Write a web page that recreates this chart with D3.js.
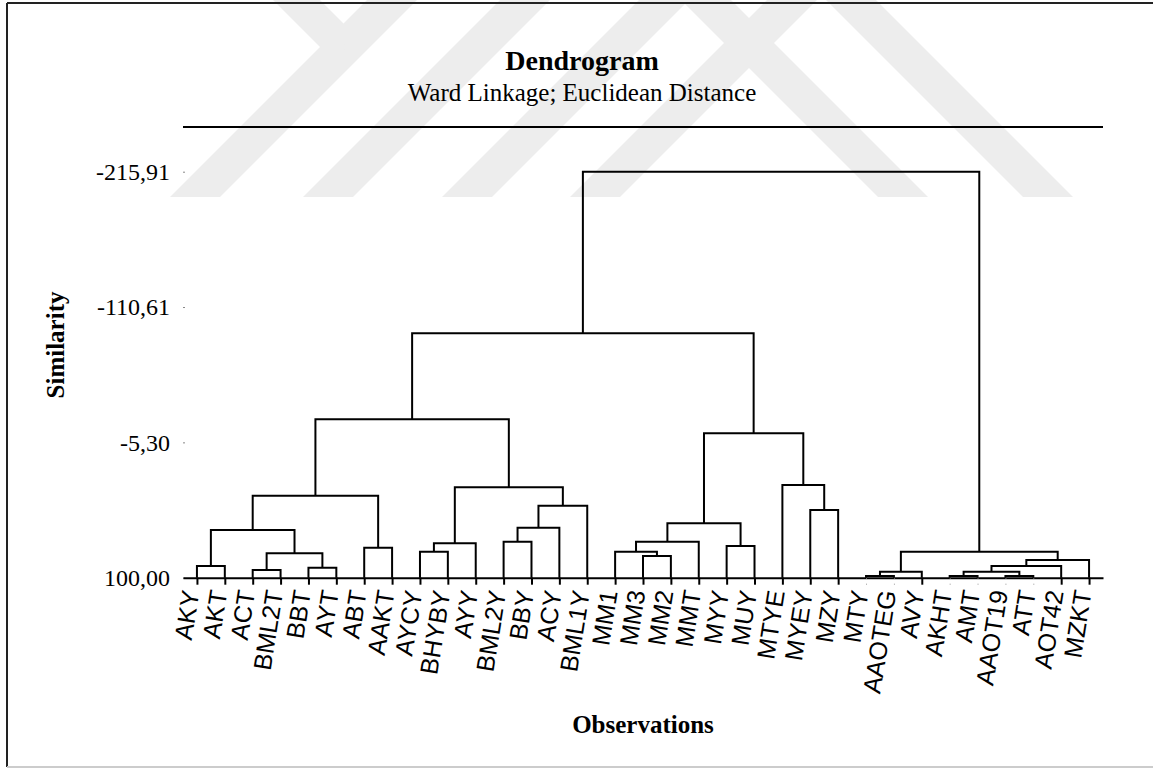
<!DOCTYPE html>
<html>
<head>
<meta charset="utf-8">
<script src="https://cdn.jsdelivr.net/npm/d3@7"></script>
<style>
  body { margin: 0; background: #fff; }
  svg { display: block; }
</style>
</head>
<body>
<div id="chart"></div>
<script>
// observations in dendrogram order
const leaves = ['AKY', 'AKT', 'ACT', 'BML2T', 'BBT', 'AYT', 'ABT', 'AAKT', 'AYCY', 'BHYBY', 'AYY',
                'BML2Y', 'BBY', 'ACY', 'BML1Y', 'MM1', 'MM3', 'MM2', 'MMT', 'MYY', 'MUY', 'MTYE',
                'MYEY', 'MZY', 'MTY', 'AAOTEG', 'AVY', 'AKHT', 'AMT', 'AAOT19', 'ATT', 'AOT42', 'MZKT'];

// merge k creates node leaves.length + k from mergeLeft[k] and mergeRight[k]
const mergeLeft   = [24, 27, 29, 33, 34, 2, 4, 0, 37, 41, 16, 38, 8, 15, 36, 6,
                     19, 45, 11, 46, 51, 40, 52, 22, 53, 54, 50, 21, 55, 58, 62, 63];
const mergeRight  = [25, 28, 30, 26, 35, 3, 5, 1, 31, 32, 17, 39, 9, 43, 42, 7,
                     20, 10, 12, 18, 13, 44, 49, 23, 14, 48, 57, 56, 60, 59, 61, 47];
const mergeHeight = [98.7, 98.7, 98.6, 95.3, 95.3, 94.0, 92.2, 90.9, 90.9, 86.2, 83.1, 81.0, 79.8, 79.8, 79.8, 76.7,
                     75.3, 73.2, 72.0, 72.0, 61.1, 62.9, 57.7, 47.3, 44.0, 36.2, 29.7, 27.9, -12.4, -23.2, -90.2, -215.91];

const yTicks = [-215.91, -110.61, -5.30, 100.00];

const width = 1153, height = 769;

const svg = d3.select('#chart')
              .append('svg')
              .attr('width', width)
              .attr('height', height);

// faint background watermark
const wm = svg.append('g').attr('fill', '#ededed');
const bandW = 50, bandBottom = 197;
[170, 303, 442, 570].forEach(x0 => {
    wm.append('polygon')
      .attr('points', [[x0, bandBottom], [x0 + bandW, bandBottom], [x0 + bandW + bandBottom, 0], [x0 + bandBottom, 0]].join(' '));
});
[878, 1023].forEach(x0 => {
    wm.append('polygon')
      .attr('points', [[x0, bandBottom], [x0 + bandW, bandBottom], [x0 + bandW - bandBottom, 0], [x0 - bandBottom, 0]].join(' '));
});
wm.append('polygon').attr('points', '273,0 320,0 343.5,23.5 345,72');

// frame
svg.append('line').attr('x1', 7).attr('x2', 7).attr('y1', 3).attr('y2', 767).attr('stroke', '#222').attr('stroke-width', 2);
svg.append('line').attr('x1', 7).attr('x2', width).attr('y1', 3).attr('y2', 3).attr('stroke', '#222').attr('stroke-width', 2);
svg.append('line').attr('x1', 7).attr('x2', width).attr('y1', 767).attr('y2', 767).attr('stroke', '#ccc').attr('stroke-width', 2);

const plotLeft = 183, plotRight = 1103;
const plotTop = 171.7, plotBottom = 577.7;

const xScale = d3.scalePoint()
                 .domain(leaves)
                 .range([plotLeft, plotRight])
                 .padding(0.5);

const yScale = d3.scaleLinear()
                 .domain([100, -215.91])
                 .range([plotBottom, plotTop]);

// titles
svg.append('text')
   .text('Dendrogram')
   .attr('x', 582).attr('y', 70)
   .attr('text-anchor', 'middle')
   .style('font-family', 'Liberation Serif, Times New Roman, serif')
   .style('font-weight', 'bold')
   .style('font-size', '28px');

svg.append('text')
   .text('Ward Linkage; Euclidean Distance')
   .attr('x', 582).attr('y', 101)
   .attr('text-anchor', 'middle')
   .style('font-family', 'Liberation Serif, Times New Roman, serif')
   .style('font-size', '25px');

svg.append('line')
   .attr('x1', plotLeft).attr('x2', plotRight)
   .attr('y1', 127).attr('y2', 127)
   .attr('stroke', '#000').attr('stroke-width', 2);

// y-axis, comma decimals and plain hyphen
const yAxis = d3.axisLeft(yScale)
                .tickValues(yTicks)
                .tickSize(2)
                .tickPadding(13)
                .tickFormat(d => d.toFixed(2).replace('.', ','));

const yAxisG = svg.append('g')
                  .attr('transform', 'translate(185, 0)')
                  .call(yAxis);
yAxisG.select('.domain').remove();
yAxisG.selectAll('.tick line').attr('stroke', '#888');
yAxisG.selectAll('.tick text')
      .attr('fill', '#000')
      .style('font-family', 'Liberation Serif, Times New Roman, serif')
      .style('font-size', '24px');

// dendrogram links
const nodeX = leaves.map(d => xScale(d));
const nodeY = leaves.map(() => yScale(100));
const parentY = [];

const links = [];
mergeHeight.forEach((h, k) => {
    const a = mergeLeft[k], b = mergeRight[k];
    const yy = yScale(h);
    links.push('M' + nodeX[a] + ',' + nodeY[a] + 'V' + yy + 'H' + nodeX[b] + 'V' + nodeY[b]);
    parentY[a] = yy;
    parentY[b] = yy;
    nodeX.push((nodeX[a] + nodeX[b]) / 2);
    nodeY.push(yy);
});

// x-axis with leaf labels
const xAxis = d3.axisBottom(xScale)
                .tickSize(7)
                .tickSizeOuter(0);

const xAxisG = svg.append('g')
                  .attr('transform', 'translate(0, ' + plotBottom + ')')
                  .call(xAxis);
xAxisG.select('.domain').attr('stroke', '#000').attr('stroke-width', 2);
// leaves joined right on the baseline only get a faint stub
xAxisG.selectAll('.tick line')
      .attr('stroke', (d, i) => plotBottom - parentY[i] < 3 ? '#999' : '#000')
      .attr('stroke-width', (d, i) => plotBottom - parentY[i] < 3 ? 1 : 2)
      .attr('stroke-dasharray', (d, i) => plotBottom - parentY[i] < 3 ? '1,5' : null);
xAxisG.selectAll('.tick text')
      .attr('x', 0).attr('y', 0).attr('dy', 0)
      .attr('transform', 'translate(2, 14) rotate(-81)')
      .attr('text-anchor', 'end')
      .attr('fill', '#000')
      .style('font-family', 'Liberation Sans, Arial, sans-serif')
      .style('font-size', '25px');

svg.append('g')
   .selectAll('path')
   .data(links)
   .enter()
   .append('path')
   .attr('d', d => d)
   .attr('fill', 'none')
   .attr('stroke', '#000')
   .attr('stroke-width', 2);

// axis titles
svg.append('text')
   .text('Similarity')
   .attr('transform', 'translate(55, 345) rotate(-90)')
   .attr('text-anchor', 'middle')
   .attr('dy', '0.35em')
   .style('font-family', 'Liberation Serif, Times New Roman, serif')
   .style('font-weight', 'bold')
   .style('font-size', '25px');

svg.append('text')
   .text('Observations')
   .attr('x', 643).attr('y', 733)
   .attr('text-anchor', 'middle')
   .style('font-family', 'Liberation Serif, Times New Roman, serif')
   .style('font-weight', 'bold')
   .style('font-size', '25px');
</script>
</body>
</html>
